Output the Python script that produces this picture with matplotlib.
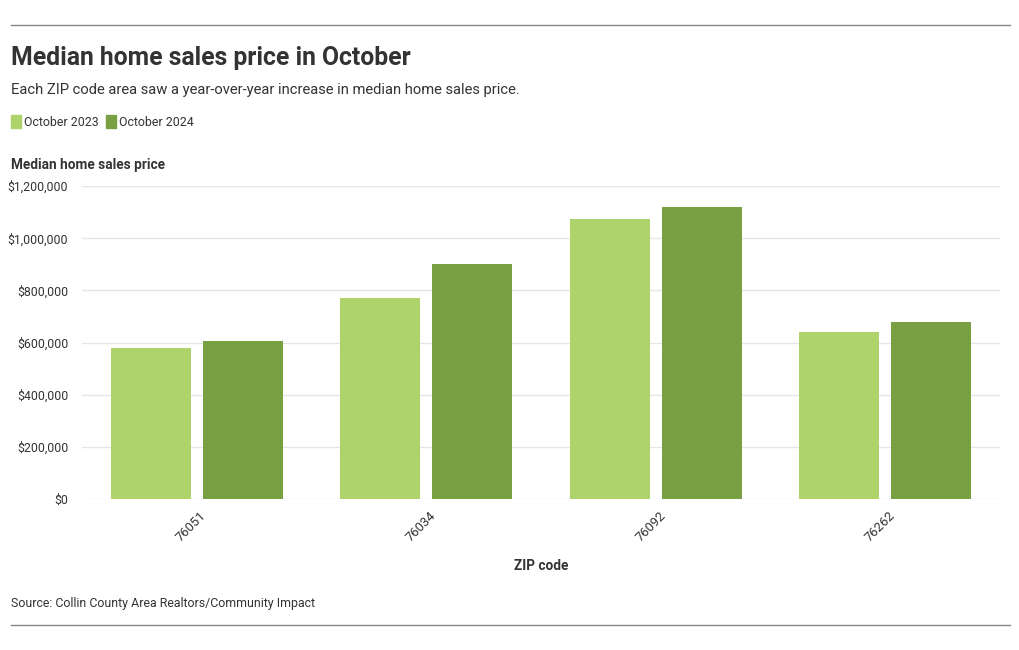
import numpy as np
import matplotlib.pyplot as plt
from matplotlib.ticker import FuncFormatter, MultipleLocator
from matplotlib.lines import Line2D
from matplotlib.transforms import ScaledTranslation

zips = ["76051", "76034", "76092", "76262"]
oct_2023 = [580_000, 771_000, 1_073_000, 640_000]
oct_2024 = [605_000, 900_000, 1_120_000, 680_000]
series_names = ["October 2023", "October 2024"]

LIGHT = "#aed36a"
DARK = "#78a042"
TEXT = "#333333"

plt.rcParams['font.family'] = ['Roboto', 'DejaVu Sans']

fig = plt.figure(figsize=(10.2, 6.5), dpi=100, facecolor='white')
ax = fig.add_axes([82 / 1020, 1 - 499 / 650, 918 / 1020, 313 / 650])

x = np.arange(len(zips))
w = 0.349
off = (w + 0.052) / 2
ax.bar(x - off, oct_2023, width=w, color=LIGHT, zorder=2)
ax.bar(x + off, oct_2024, width=w, color=DARK, zorder=2)

ax.set_xlim(-0.5, len(zips) - 0.5)
ax.set_ylim(0, 1_200_000)
ax.yaxis.set_major_locator(MultipleLocator(200_000))
ax.yaxis.set_major_formatter(FuncFormatter(lambda v, p: f"${v:,.0f}"))
ax.grid(axis='y', color='#e6e6e6', linewidth=1, zorder=0)
for s in ax.spines.values():
    s.set_visible(False)
ax.tick_params(axis='y', length=0, labelsize=8.9, labelcolor=TEXT, pad=10)
ax.tick_params(axis='x', length=0, labelsize=9.4, labelcolor=TEXT, pad=7)
ax.set_xticks(x)
ax.set_xticklabels(zips, rotation=45, ha='right', rotation_mode='anchor')
for lab in ax.get_xticklabels():
    lab.set_transform(lab.get_transform() + ScaledTranslation(3 / 100, 0, fig.dpi_scale_trans))
ax.set_xlabel("ZIP code", fontsize=9.8, fontweight='bold', color=TEXT, labelpad=11)

# header / footer
fig.add_artist(Line2D([11 / 1020, 1010 / 1020], [1 - 25 / 650] * 2, color='#888888', linewidth=1))
fig.add_artist(Line2D([11 / 1020, 1010 / 1020], [1 - 625 / 650] * 2, color='#888888', linewidth=1))
fig.text(11 / 1020, 1 - 58 / 650, "Median home sales price in October", fontsize=17.8, fontweight='bold',
         color=TEXT, va='center')
fig.text(11 / 1020, 1 - 90 / 650, "Each ZIP code area saw a year-over-year increase in median home sales price.",
         fontsize=10.6, color=TEXT, va='center')

# legend swatches
lx = 11
for name, col in zip(series_names, [LIGHT, DARK]):
    fig.patches.append(plt.Rectangle((lx / 1020, 1 - 128 / 650), 10 / 1020, 13 / 650,
                                     transform=fig.transFigure, color=col))
    fig.text((lx + 13) / 1020, 1 - 122 / 650, name, fontsize=8.9, color=TEXT, va='center')
    lx += 95

fig.text(11 / 1020, 1 - 165 / 650, "Median home sales price", fontsize=9.8, fontweight='bold',
         color=TEXT, va='center')
fig.text(11 / 1020, 1 - 603 / 650, "Source: Collin County Area Realtors/Community Impact",
         fontsize=8.9, color=TEXT, va='center')

fig.savefig("out.png", dpi=100, facecolor='white')
